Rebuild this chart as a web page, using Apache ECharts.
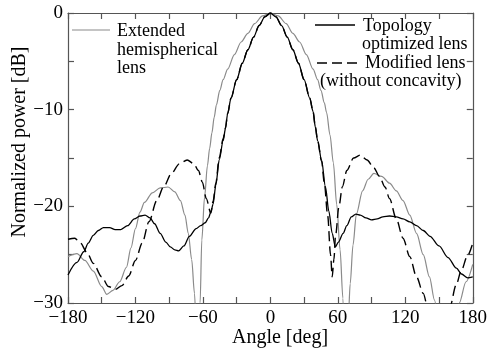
<!DOCTYPE html>
<html><head><meta charset="utf-8">
<script src="https://cdn.jsdelivr.net/npm/echarts@6/dist/echarts.min.js"></script>
<style>html,body{margin:0;padding:0;background:#fff}#c{width:490px;height:353px}</style>
</head><body><div id="c"></div>
<script>
// Extended hemispherical lens (grey)
var hemiAngle = [-180,-172,-165,-157.5,-150,-145.5,-140,-134,-128,-124,-120,-116,-112,-105,-98,-91,-85,-80,-76,-73,-70,-67.5,-65.5,-64,-62.5,-61,-58.5,-56,-54,-52,-50,-48,-45,-42,-38,-32,-26,-20,-14,-7,0,7,14,20,26,32,38,42,45,48,50,53,56,59,62,64.5,67,69.5,71,73.5,76.5,82,87,92,99,106,112,118,124,130,136,141.5,146,150,158,164,168,174,180];
var hemiValue = [-25.2,-24.9,-25.6,-26.7,-28.3,-29.1,-28.7,-27.8,-26.3,-24.3,-22.3,-20.6,-19.6,-18.6,-18.1,-18.0,-18.5,-19.4,-20.9,-22.8,-25.5,-29,-34,-40,-30,-23.5,-19,-15.8,-14.0,-12.4,-10.8,-9.5,-8.0,-6.9,-5.8,-4.3,-3.0,-2.1,-1.1,-0.3,0,-0.3,-1.1,-2.1,-3.0,-4.3,-5.8,-6.9,-8.0,-9.3,-10.3,-12.6,-15.5,-19.8,-24.5,-29.5,-40,-31,-28,-24,-20.8,-18.4,-17.2,-16.6,-16.9,-17.6,-18.4,-19.4,-20.9,-22.8,-25,-27.3,-29.7,-32.5,-40,-33,-30,-27.8,-26];
// Topology optimized lens (black solid)
var topoAngle = [-180,-172,-166,-162,-157.5,-153,-148.5,-143,-138,-133,-127,-121,-116,-111.5,-107,-103,-98,-93,-89,-85,-81.5,-77,-72,-66,-62,-58,-55,-53,-51,-48.5,-45.5,-42,-40,-38,-35,-30,-25,-20,-15,-10,-5,0,5,10,15,20,25,30,35,38,40,42,45.5,49,52,55,57.8,60.5,64.7,68,72,76,80,85,90,95,100,106,112,118,124,130,136,142,150,158,165.5,170,175.5,180];
var topoValue = [-27.1,-25.8,-24.7,-23.8,-23.0,-22.5,-22.2,-22.2,-22.4,-22.4,-22.0,-21.3,-21.0,-20.9,-21.2,-21.8,-22.8,-23.7,-24.2,-24.5,-24.6,-24.1,-23.1,-22.3,-22.0,-21.7,-21.2,-20.6,-19.8,-17.8,-15.2,-13.2,-12.0,-10.4,-8.8,-6.9,-5.2,-3.8,-2.5,-1.3,-0.4,0,-0.4,-1.3,-2.5,-3.8,-5.2,-6.9,-8.8,-10.2,-11.8,-13.2,-15.2,-18,-20.5,-22.8,-24.2,-23.7,-22.8,-22,-21.1,-20.8,-20.9,-21.2,-21.4,-21.3,-21.1,-21.0,-21.1,-21.3,-21.6,-22.0,-22.5,-23.1,-24.1,-25.3,-26.4,-27.0,-27.4,-27.3];
// Modified lens without concavity (black dashed)
var modAngle = [-180,-174,-169,-163,-157.5,-150,-144,-138,-132,-126,-120,-114,-108,-101,-95,-88,-81,-74,-68,-64,-60.5,-57,-53,-51,-48.5,-45.5,-42,-40,-38,-35,-30,-25,-20,-15,-10,-5,0,5,10,15,20,25,30,35,38,40,42,45.5,48,51,53.5,55,56.5,58,61,64,68,74,80,86,92,97,102,106,112,118,124,130,136,140,145,150,155,160,165,170,175,180];
var modValue = [-23.4,-23.3,-23.8,-24.8,-25.9,-27.3,-28.3,-28.6,-28.2,-27.2,-25.6,-23.8,-21.6,-19.4,-18.0,-16.6,-15.6,-15.2,-15.6,-16.3,-17.5,-19.2,-20.7,-19.5,-17.6,-15.0,-13.0,-11.9,-10.4,-8.8,-6.9,-5.2,-3.8,-2.5,-1.3,-0.4,0,-0.4,-1.3,-2.5,-3.8,-5.2,-6.9,-8.8,-10.2,-11.8,-13.2,-15.3,-17.6,-21,-25,-27.3,-25.5,-23,-20,-18,-16.3,-15,-14.7,-15.2,-16.0,-16.9,-18.0,-19.2,-21.3,-23.3,-25.2,-27.3,-29,-30.5,-33,-35,-33,-30.3,-28.2,-26.6,-25.2,-23.8];

var xTicks = {min: -180, max: 180, interval: 30};
var yTicks = {min: -30, max: 0, interval: 5};

function zip(a, b) { return a.map(function (v, i) { return [v, b[i]]; }); }
function fmt(v) { return v < 0 ? '\u2212' + Math.abs(v) : String(v); }

var FONT = "'Liberation Serif','Times New Roman',serif";
var chart = echarts.init(document.getElementById('c'), null, {renderer: 'canvas'});
var axisLine = {show: true, onZero: false, lineStyle: {color: '#555', width: 1.2}};
var tickIn = {show: true, inside: true, length: 6, lineStyle: {color: '#555', width: 1.2}};
chart.setOption({
  animation: false,
  backgroundColor: '#fff',
  grid: {left: 68, right: 17, top: 13, bottom: 50, containLabel: false},
  xAxis: [
    {type: 'value', min: xTicks.min, max: xTicks.max, interval: xTicks.interval, position: 'bottom',
     axisLine: axisLine, axisTick: tickIn, splitLine: {show: false},
     axisLabel: {fontFamily: FONT, fontSize: 19, color: '#000', margin: 6,
       formatter: function (v) { return v % 60 === 0 ? fmt(v) : ''; }}},
    {type: 'value', min: xTicks.min, max: xTicks.max, interval: xTicks.interval, position: 'top',
     axisLine: axisLine, axisTick: tickIn, splitLine: {show: false}, axisLabel: {show: false}}
  ],
  yAxis: [
    {type: 'value', min: yTicks.min, max: yTicks.max, interval: yTicks.interval, position: 'left',
     axisLine: axisLine, axisTick: tickIn, splitLine: {show: false},
     axisLabel: {fontFamily: FONT, fontSize: 19, color: '#000', margin: 5,
       formatter: function (v) { return v % 10 === 0 ? fmt(v) : ''; }}},
    {type: 'value', min: yTicks.min, max: yTicks.max, interval: yTicks.interval, position: 'right',
     axisLine: axisLine, axisTick: tickIn, splitLine: {show: false}, axisLabel: {show: false}}
  ],
  series: [
    {name: 'Extended hemispherical lens', type: 'line', data: zip(hemiAngle, hemiValue),
     showSymbol: false, smooth: 0.3, smoothMonotone: 'x', clip: true,
     lineStyle: {color: '#8a8a8a', width: 1.2}},
    {name: 'Modified lens', type: 'line', data: zip(modAngle, modValue),
     showSymbol: false, smooth: 0.3, smoothMonotone: 'x', clip: true,
     lineStyle: {color: '#000', width: 1.4, type: [10, 5]}},
    {name: 'Topology optimized lens', type: 'line', data: zip(topoAngle, topoValue),
     showSymbol: false, smooth: 0.3, smoothMonotone: 'x', clip: true,
     lineStyle: {color: '#000', width: 1.3}}
  ],
  graphic: [
    {type: 'line', shape: {x1: 72, y1: 30, x2: 110, y2: 30}, style: {stroke: '#8a8a8a', lineWidth: 1.2}},
    {type: 'text', x: 117, y: 31, style: {text: 'Extended', font: '18px ' + FONT, fill: '#000', verticalAlign: 'middle'}},
    {type: 'text', x: 117, y: 50, style: {text: 'hemispherical', font: '18px ' + FONT, fill: '#000', verticalAlign: 'middle'}},
    {type: 'text', x: 117, y: 68, style: {text: 'lens', font: '18px ' + FONT, fill: '#000', verticalAlign: 'middle'}},
    {type: 'line', shape: {x1: 315, y1: 25, x2: 355, y2: 25}, style: {stroke: '#000', lineWidth: 1.3}},
    {type: 'text', x: 363, y: 26, style: {text: 'Topology', font: '18px ' + FONT, fill: '#000', verticalAlign: 'middle'}},
    {type: 'text', x: 362, y: 44, style: {text: 'optimized lens', font: '18px ' + FONT, fill: '#000', verticalAlign: 'middle'}},
    {type: 'line', shape: {x1: 317, y1: 63, x2: 358, y2: 63}, style: {stroke: '#000', lineWidth: 1.4, lineDash: [10, 5]}},
    {type: 'text', x: 365, y: 63, style: {text: 'Modified lens', font: '18px ' + FONT, fill: '#000', verticalAlign: 'middle'}},
    {type: 'text', x: 320, y: 81, style: {text: '(without concavity)', font: '18px ' + FONT, fill: '#000', verticalAlign: 'middle'}},
    {type: 'text', x: 20, y: 142, rotation: Math.PI / 2, style: {text: 'Normalized power [dB]', font: '20px ' + FONT, fill: '#000', align: 'center', verticalAlign: 'middle'}},
    {type: 'text', x: 280, y: 338, style: {text: 'Angle [deg]', font: '20px ' + FONT, fill: '#000', align: 'center', verticalAlign: 'middle'}}
  ]
});
</script></body></html>
